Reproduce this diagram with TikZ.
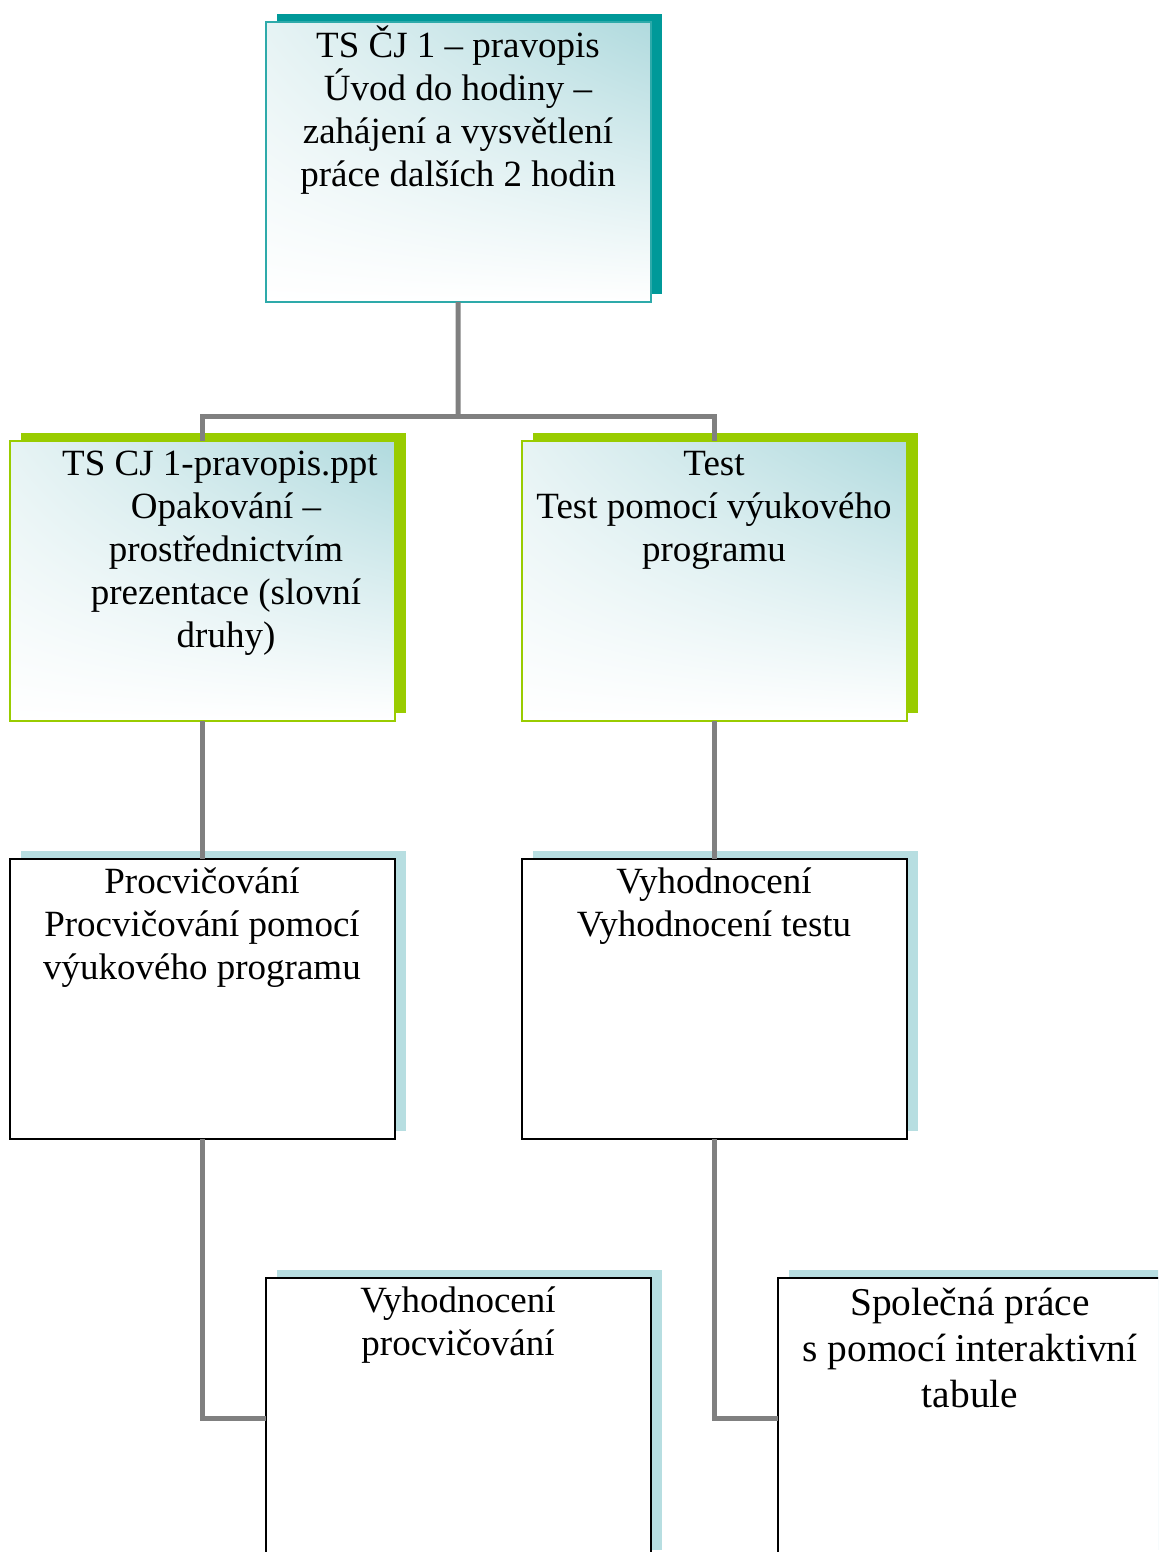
\documentclass[tikz,border=0pt]{standalone}
\usepackage{fontspec}
\setmainfont{Liberation Serif}
\usetikzlibrary{shadows,shadings}
\definecolor{tealS}{HTML}{009999}
\definecolor{tealL}{HTML}{2EAAAA}
\definecolor{greenS}{HTML}{99CC00}
\definecolor{blueS}{HTML}{B7DEE1}
\definecolor{gradC}{HTML}{B0DADE}
\definecolor{gradM}{HTML}{E6F3F4}
\definecolor{connC}{HTML}{808080}
\newcommand\mytopstrut{\rule{0pt}{17pt}}
\begin{document}
\begin{tikzpicture}[x=0.5pt,y=-0.5pt,
 box/.style={rectangle, minimum width=192.5pt, minimum height=140pt, anchor=north west, inner sep=0pt, outer sep=0pt},
 gradbox/.style={box, upper right=gradC, upper left=gradM, lower left=white, lower right=white, line width=0.8pt},
 topbox/.style={gradbox, draw=tealL, general shadow={fill=tealS, shadow xshift=5.5pt, shadow yshift=4pt}},
 greenbox/.style={gradbox, draw=greenS, general shadow={fill=greenS, shadow xshift=5.5pt, shadow yshift=4pt}},
 whitebox/.style={box, fill=white, draw=black, line width=1pt, general shadow={fill=blueS, shadow xshift=5.5pt, shadow yshift=4pt}},
 txt/.style={anchor=north, align=center, inner sep=0pt, font=\fontsize{18.5}{21.5}\selectfont},
 txtbig/.style={txt, font=\fontsize{19.7}{23}\selectfont},
 conn/.style={draw=connC, line width=2.5pt}
]
\useasboundingbox (0,0) rectangle (1158,1552);
\clip (0,0) rectangle (1158,1552);
\coordinate (hub) at (458,416);
% boxes
\node[topbox] (top) at (266,22) {};
\node[greenbox] (l1) at (10,441) {};
\node[greenbox] (r1) at (522,441) {};
\node[whitebox] (l2) at (10,859) {};
\node[whitebox] (r2) at (522,859) {};
\node[whitebox] (l3) at (266,1278) {};
\node[whitebox] (r3) at (778,1278) {};
% connectors
\draw[conn] (top) -- (hub);
\draw[conn] (l1.north) |- (hub) -| (r1.north);
\draw[conn] (l1) -- (l2);
\draw[conn] (r1) -- (r2);
\draw[conn] (l2.south) |- (l3.west);
\draw[conn] (r2.south) |- (r3.west);
% texts
\node[txt] (ttop) at (458,23) {\mytopstrut TS ČJ 1 – pravopis\\Úvod do hodiny –\\zahájení a vysvětlení\\práce dalších 2 hodin};
\node[txt] (tl1) at (226,441) {\mytopstrut TS CJ 1-pravopis.ppt\kern6pt\\Opakování –\\prostřednictvím\\prezentace (slovní\\druhy)};
\node[txt] (tr1) at (714,441) {\mytopstrut Test\\Test pomocí výukového\\programu};
\node[txt] (tl2) at (202,859) {\mytopstrut Procvičování\\Procvičování pomocí\\výukového programu};
\node[txt] (tr2) at (714,859) {\mytopstrut Vyhodnocení\\Vyhodnocení testu};
\node[txt] (tl3) at (458,1278) {\mytopstrut Vyhodnocení\\procvičování};
\node[txtbig] (tr3) at (970,1281) {\mytopstrut Společná práce\\s pomocí interaktivní\\tabule};
\end{tikzpicture}
\end{document}
